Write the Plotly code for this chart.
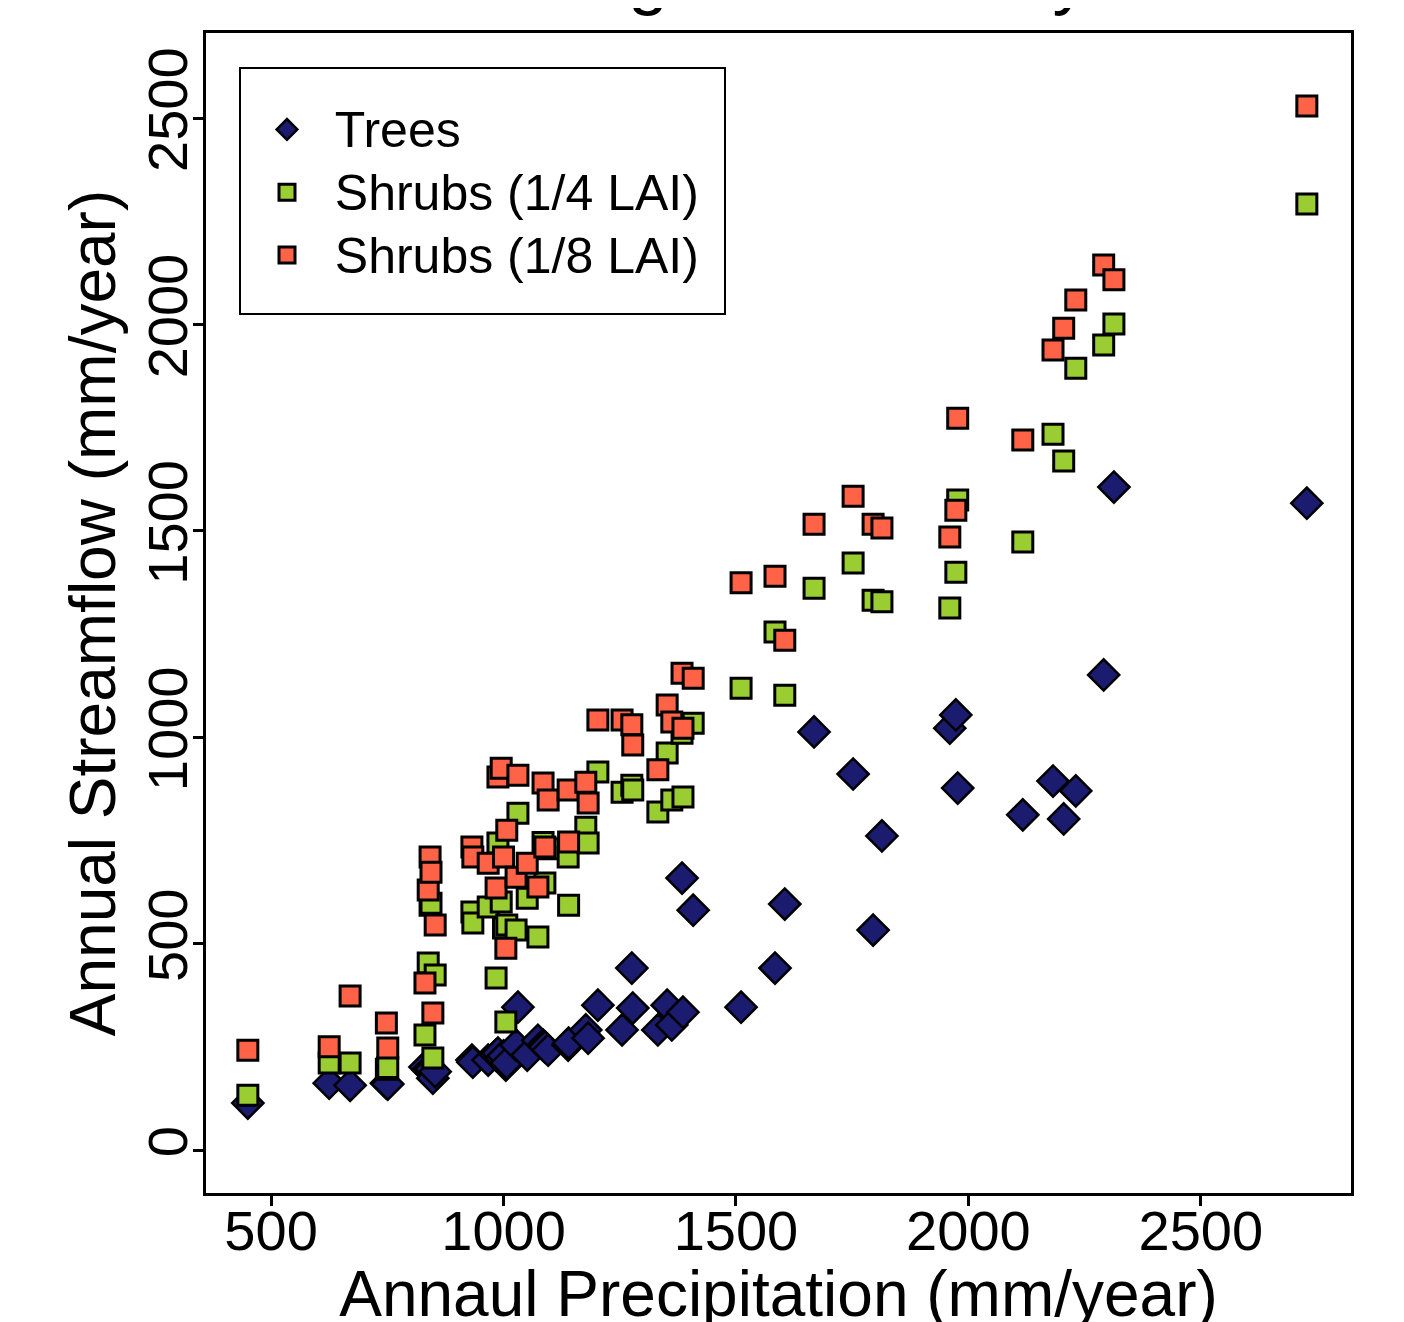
import plotly.graph_objects as go

# Annual precipitation (mm/year) for each simulated year
precip = [450, 625, 670, 748, 751, 831, 838, 842, 844, 848, 853,
          932, 934, 967, 984, 988, 995, 1000, 1005, 1007, 1027, 1031,
          1051, 1074, 1085, 1089, 1096, 1139, 1140, 1177, 1182, 1203,
          1255, 1276, 1278, 1332, 1352, 1362, 1384, 1386, 1408,
          1511, 1584, 1605, 1668, 1752, 1795, 1814, 1960, 1973, 1977,
          2117, 2182, 2205, 2231, 2291, 2313, 2728]

# Annual streamflow (mm/year)
trees = [114, 162, 157, 162, 160, 201, 195, 198, 196, 174, 190,
         218, 213, 218, 230, 235, 223, 228, 206, 211, 254, 346,
         230, 266, 254, 250, 242, 254, 259, 291, 271, 351,
         291, 441, 344, 291, 351, 303, 659, 334, 581,
         346, 441, 596, 1013, 911, 533, 761, 1022, 1054, 877,
         812, 894, 802, 870, 1151, 1606, 1567]

shrubs_quarter = [133, 211, 211, 196, 200, 279, 453, 593, 598, 223, 424,
                  577, 550, 589, 417, 744, 601, 538, 310, 545, 533, 816,
                  610, 516, 745, 647, 730, 710, 593, 782, 744, 916,
                  867, 884, 872, 819, 962, 848, 1010, 855, 1034,
                  1119, 1255, 1102, 1361, 1422, 1332, 1328, 1313, 1400, 1575,
                  1473, 1734, 1669, 1894, 1950, 2001, 2292]

shrubs_eighth = [242, 250, 373, 308, 247, 405, 630, 710, 673, 332, 545,
                 734, 710, 695, 635, 904, 925, 710, 489, 775, 661, 908,
                 695, 637, 889, 734, 848, 872, 746, 891, 841, 1042,
                 1042, 1030, 981, 921, 1078, 1037, 1155, 1022, 1143,
                 1374, 1390, 1235, 1516, 1584, 1516, 1507, 1485, 1550, 1773,
                 1720, 1938, 1991, 2059, 2144, 2108, 2529]

series_names = ["Trees", "Shrubs (1/4 LAI)", "Shrubs (1/8 LAI)"]
x_ticks = [500, 1000, 1500, 2000, 2500]
y_ticks = [0, 500, 1000, 1500, 2000, 2500]
title_text = "Vegetation Study"

FONT = "Liberation Sans, Arial, sans-serif"
NB = "\u00a0\u00a0"


def legend_label(s):
    return '<span style="font-size:50px">' + NB + s + "</span>"


fig = go.Figure()
fig.add_trace(go.Scatter(
    x=precip, y=trees, mode="markers", name=legend_label(series_names[0]),
    marker=dict(symbol="diamond", size=24, color="#1b1b6f",
                line=dict(color="black", width=2.5))))
fig.add_trace(go.Scatter(
    x=precip, y=shrubs_quarter, mode="markers", name=legend_label(series_names[1]),
    marker=dict(symbol="square", size=20, color="#9acd32",
                line=dict(color="black", width=3))))
fig.add_trace(go.Scatter(
    x=precip, y=shrubs_eighth, mode="markers", name=legend_label(series_names[2]),
    marker=dict(symbol="square", size=20, color="#ff6347",
                line=dict(color="black", width=3))))

# The page body adds an 8px offset; plot box in page pixels: 206..1351 x 33..1193
OFF = 8
W, H = 1404, 1322
PL, PR, PT, PB = 206, 1351, 33, 1193
L, T = PL - OFF, PT - OFF
R, B = W - (PR - OFF), H - (PB - OFF)


def px2paper(px, py):
    return (px - PL) / (PR - PL), (PB - py) / (PB - PT)


bx0, by0 = px2paper(240, 314)
bx1, by1 = px2paper(725, 68)
lx, ly = px2paper(267, 93)
tx, _ = px2paper(816, 0)

fig.update_layout(
    width=W, height=H,
    margin=dict(l=L, r=R, t=T, b=B, autoexpand=False),
    paper_bgcolor="white", plot_bgcolor="white",
    font=dict(family=FONT, color="black"),
    showlegend=True,
    legend=dict(x=lx, y=ly, xanchor="left", yanchor="top",
                bgcolor="rgba(0,0,0,0)", borderwidth=0,
                font=dict(size=46, family=FONT, color="black"),
                tracegroupgap=0),
    shapes=[dict(type="rect", xref="paper", yref="paper",
                 x0=bx0, y0=by0, x1=bx1, y1=by1,
                 line=dict(color="black", width=2), fillcolor="rgba(0,0,0,0)")],
    annotations=[dict(text=title_text, xref="paper", yref="paper",
                      x=tx, y=1.0, yshift=15, xanchor="center", yanchor="bottom",
                      showarrow=False, font=dict(size=72, family=FONT, color="black"))],
)

fig.update_xaxes(
    range=[360, 2823], tickvals=x_ticks, ticktext=[str(v) for v in x_ticks],
    ticks="outside", ticklen=10, tickwidth=3, tickcolor="black",
    ticklabelstandoff=-23,
    showline=True, linewidth=3, linecolor="black", mirror=True,
    showgrid=False, zeroline=False, automargin=False,
    tickfont=dict(size=56, family=FONT, color="black"),
    title=dict(text="Annaul Precipitation (mm/year)", standoff=2,
               font=dict(size=64, family=FONT, color="black")))

fig.update_yaxes(
    range=[-104, 2706], tickvals=y_ticks, ticktext=[str(v) for v in y_ticks],
    ticks="outside", ticklen=10, tickwidth=3, tickcolor="black", tickangle=-90,
    ticklabelstandoff=-16,
    showline=True, linewidth=3, linecolor="black", mirror=True,
    showgrid=False, zeroline=False, automargin=False,
    tickfont=dict(size=56, family=FONT, color="black"),
    title=dict(text="Annual Streamflow (mm/year)", standoff=0,
               font=dict(size=64, family=FONT, color="black")))

fig.write_html("out.html")
